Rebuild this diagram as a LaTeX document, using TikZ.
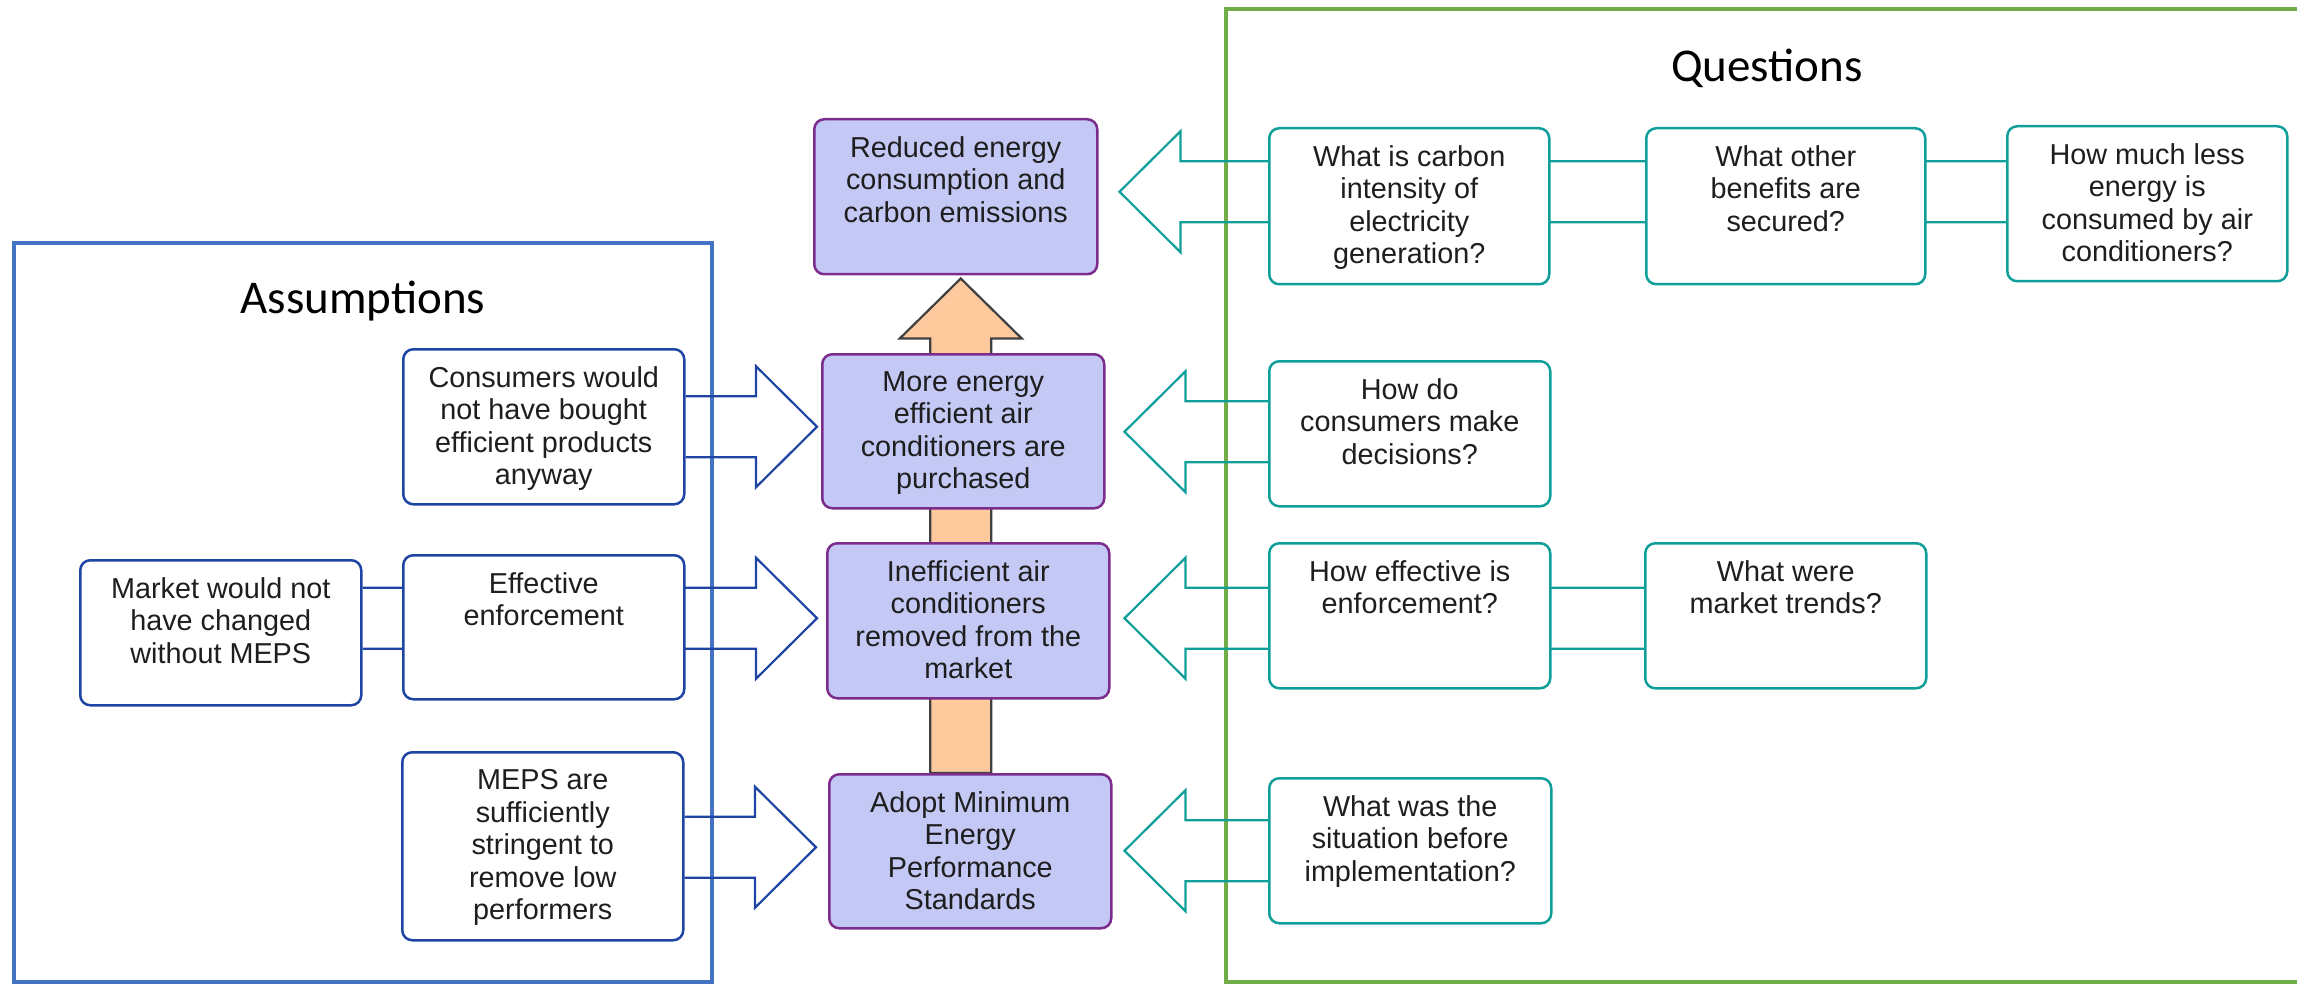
\documentclass[tikz,border=0pt]{standalone}
\usepackage{fontspec}
\setmainfont{Liberation Sans}
\newfontfamily\titlefont{Carlito}
\usetikzlibrary{calc}
\definecolor{pfill}{HTML}{C4C8F4}
\definecolor{pdraw}{HTML}{7B2C8C}
\definecolor{adraw}{HTML}{1E44A4}
\definecolor{qdraw}{HTML}{109E9A}
\definecolor{bframe}{HTML}{4472C4}
\definecolor{gframe}{HTML}{70AD47}
\definecolor{ofill}{HTML}{FDC99D}
\definecolor{odraw}{HTML}{404040}
\definecolor{txtc}{HTML}{1E1E1E}
\pgfdeclarelayer{bg}\pgfdeclarelayer{arr}\pgfsetlayers{bg,arr,main}
\tikzset{
 boxbase/.style={rectangle, rounded corners=10pt, inner sep=0pt, anchor=north west, line width=2.5pt},
 pbox/.style={boxbase, fill=pfill, draw=pdraw},
 abox/.style={boxbase, fill=white, draw=adraw},
 qbox/.style={boxbase, fill=white, draw=qdraw},
 btxt/.style={anchor=north, inner sep=0pt, align=center, text=txtc, font=\fontsize{28.8}{32.5}\selectfont},
 ttl/.style={anchor=base, inner sep=0pt, font=\titlefont\fontsize{47}{56}\selectfont},
 aline/.style={draw=adraw, line width=2.2pt},
 qline/.style={draw=qdraw, line width=2.2pt},
 oarrow/.style={fill=ofill, draw=odraw, line width=2.2pt},
}
% #1 style, #2 name, #3 x, #4 y, #5 width, #6 height, #7 text
\newcommand\mkbox[7]{%
 \node[#1, minimum width=#5pt, minimum height=#6pt] (#2) at (#3,#4) {};
 \node[btxt] (#2t) at ([yshift=-18.3pt]#2.north) {#7};}
% #1 style, #2 source anchor, #3 tip coordinate, #4 signed head offset
\newcommand\harrow[4]{%
 \draw[#1] let \p1=(#3), \p2=(#2) in
  (\x2,{\y1+30.5pt}) -- ({\x1#4},{\y1+30.5pt}) -- ({\x1#4},{\y1+60.5pt}) -- (\x1,\y1)
  -- ({\x1#4},{\y1-60.5pt}) -- ({\x1#4},{\y1-30.5pt}) -- (\x2,{\y1-30.5pt});}
\begin{document}
\begin{tikzpicture}[x=1pt,y=-1pt]
\useasboundingbox (0,0) rectangle (2297,984);
\begin{pgfonlayer}{bg}
\draw[bframe, line width=4.5pt] (14,243) rectangle (712,982);
\draw[gframe, line width=4.5pt] (1226,9) rectangle (2310,982);
\end{pgfonlayer}
\node[ttl] (assum) at (363,313) {Assumptions};
\node[ttl] (quest) at (1767,82) {Questions};
% purple chain
\mkbox{pbox}{P1}{813}{118}{283}{155}{Reduced energy\\consumption and\\carbon emissions}
\mkbox{pbox}{P2}{821}{353}{282}{154}{More energy\\efficient air\\conditioners are\\purchased}
\mkbox{pbox}{P3}{826}{542}{282}{155}{Inefficient air\\conditioners\\removed from the\\market}
\mkbox{pbox}{P4}{828}{773}{282}{154}{Adopt Minimum\\Energy\\Performance\\Standards}
% assumptions
\mkbox{abox}{A1}{402}{348}{281}{155}{Consumers would\\not have bought\\efficient products\\anyway}
\mkbox{abox}{A2}{402}{554}{281}{144}{Effective\\enforcement}
\mkbox{abox}{A3}{79}{559}{281}{145}{Market would not\\have changed\\without MEPS}
\mkbox{abox}{A4}{401}{751}{281}{188}{MEPS are\\sufficiently\\stringent to\\remove low\\performers}
% questions
\mkbox{qbox}{Q1}{1268}{127}{280}{156}{What is carbon\\intensity of\\electricity\\generation?}
\mkbox{qbox}{Q2}{1645}{127}{279}{156}{What other\\benefits are\\secured?}
\mkbox{qbox}{Q3}{2006}{125}{280}{155}{How much less\\energy is\\consumed by air\\conditioners?}
\mkbox{qbox}{Q4}{1268}{360}{281}{145}{How do\\consumers make\\decisions?}
\mkbox{qbox}{Q5}{1268}{542}{281}{145}{How effective is\\enforcement?}
\mkbox{qbox}{Q6}{1644}{542}{281}{145}{What were\\market trends?}
\mkbox{qbox}{Q7}{1268}{777}{282}{145}{What was the\\situation before\\implementation?}
% arrow tips
\path ($(P1.east)+(21,-5)$) coordinate (tq1);
\path ($(P2.east)+(19,0.5)$) coordinate (tq2);
\path ($(P3.east)+(14,-2.5)$) coordinate (tq3);
\path ($(P4.east)+(12,-0.5)$) coordinate (tq4);
\path ($(P2.west)+(-4,-4.5)$) coordinate (ta1);
\path ($(P3.west)+(-9,-2.5)$) coordinate (ta2);
\path ($(P4.west)+(-12,-4)$) coordinate (ta3);
\path ($(P1.south)+(5,3)$) coordinate (tu);
\begin{pgfonlayer}{arr}
\draw[oarrow] let \p1=(tu), \p2=(P4.north) in
  ({\x1-30.5pt},\y2) -- ({\x1-30.5pt},{\y1-60pt}) -- ({\x1-61pt},{\y1-60pt}) -- (\x1,\y1)
  -- ({\x1+61pt},{\y1-60pt}) -- ({\x1+30.5pt},{\y1-60pt}) -- ({\x1+30.5pt},\y2) -- cycle;
\harrow{qline}{Q3.west}{tq1}{+61pt}
\harrow{qline}{Q4.west}{tq2}{+61pt}
\harrow{qline}{Q6.west}{tq3}{+61pt}
\harrow{qline}{Q7.west}{tq4}{+61pt}
\harrow{aline}{A1.east}{ta1}{-61pt}
\harrow{aline}{A3.east}{ta2}{-61pt}
\harrow{aline}{A4.east}{ta3}{-61pt}
\end{pgfonlayer}
\end{tikzpicture}
\end{document}
